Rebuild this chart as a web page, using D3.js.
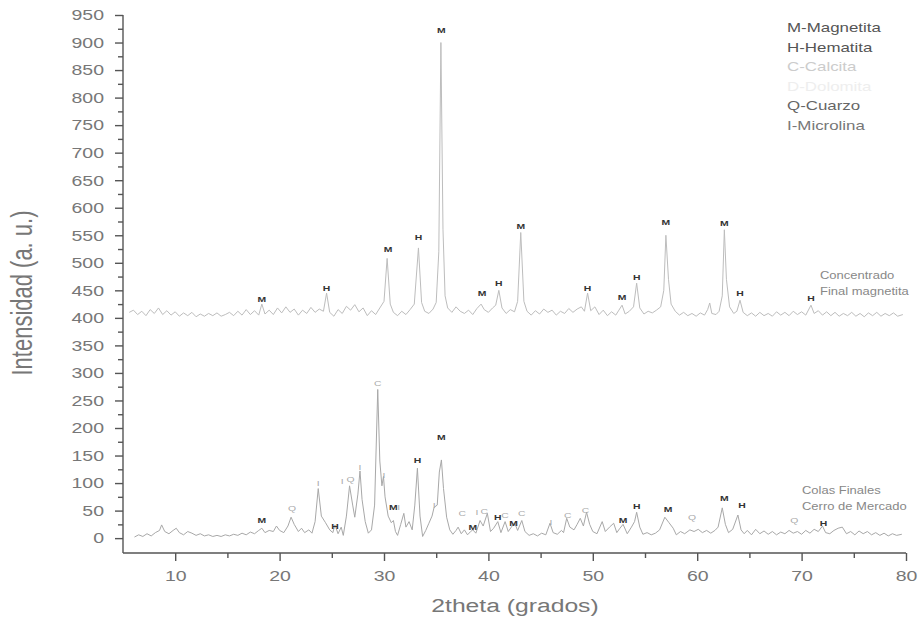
<!DOCTYPE html>
<html>
<head>
<meta charset="utf-8">
<script src="https://cdn.jsdelivr.net/npm/d3@7"></script>
<style>
  body { margin: 0; background: #fff; }
  text { font-family: "Liberation Sans", Arial, sans-serif; }
</style>
</head>
<body>
<script>
// Concentrado Final magnetita (upper pattern)
const topTheta = [5.6, 6.0, 6.4, 6.8, 7.2, 7.6, 8.0, 8.4, 8.8, 9.2, 9.6, 10.0, 10.4, 10.8, 11.2, 11.6, 12.0, 12.4, 12.8, 13.2,
  13.6, 14.0, 14.4, 14.8, 15.2, 15.6, 16.0, 16.4, 16.8, 17.2, 17.6, 18.0, 18.3, 18.6, 19.0, 19.4, 19.8, 20.2, 20.6, 21.0,
  21.4, 21.8, 22.2, 22.6, 23.0, 23.4, 23.8, 24.2, 24.5, 24.8, 25.2, 25.6, 26.0, 26.4, 26.8, 27.2, 27.6, 28.0, 28.4, 28.8,
  29.2, 29.6, 30.0, 30.3, 30.6, 30.9, 31.3, 31.7, 32.1, 32.5, 32.9, 33.3, 33.6, 33.9, 34.3, 34.7, 35.0, 35.25, 35.45, 35.65,
  35.85, 36.1, 36.5, 36.9, 37.3, 37.7, 38.1, 38.5, 38.9, 39.3, 39.6, 40.0, 40.4, 40.7, 41.0, 41.3, 41.7, 42.1, 42.5, 42.8,
  43.1, 43.4, 43.7, 44.1, 44.5, 44.9, 45.3, 45.7, 46.1, 46.5, 46.9, 47.3, 47.7, 48.1, 48.5, 48.9, 49.2, 49.5, 49.8, 50.2,
  50.6, 51.0, 51.4, 51.8, 52.2, 52.5, 52.8, 53.1, 53.5, 53.9, 54.2, 54.5, 54.9, 55.3, 55.7, 56.1, 56.5, 56.8, 57.0, 57.25,
  57.5, 57.9, 58.3, 58.7, 59.1, 59.5, 59.9, 60.3, 60.7, 61.0, 61.2, 61.4, 61.8, 62.1, 62.4, 62.6, 62.8, 63.1, 63.5, 63.8,
  64.1, 64.4, 64.8, 65.2, 65.6, 66.0, 66.4, 66.8, 67.2, 67.6, 68.0, 68.4, 68.8, 69.2, 69.6, 70.0, 70.4, 70.9, 71.2, 71.6,
  72.0, 72.4, 72.8, 73.2, 73.6, 74.0, 74.4, 74.8, 75.2, 75.6, 76.0, 76.4, 76.8, 77.2, 77.6, 78.0, 78.4, 78.8, 79.2, 79.7];
const topIntensity = [410, 414, 406, 412, 404, 415, 408, 418, 406, 413, 405, 411, 403, 409, 404, 410, 402, 407, 403, 408,
  404, 409, 403, 406, 410, 404, 412, 405, 415, 406, 413, 405, 425, 407, 414, 406, 418, 409, 420, 410,
  416, 405, 414, 408, 419, 410, 416, 412, 445, 410, 403, 415, 408, 421, 414, 424, 411, 418, 404, 413,
  406, 418, 430, 508, 425, 410, 404, 412, 406, 415, 425, 527, 428, 412, 408, 416, 428, 520, 900, 560,
  440, 418, 410, 420, 412, 408, 414, 406, 417, 425, 415, 410, 418, 423, 450, 418, 408, 415, 411, 430,
  555, 430, 412, 405, 413, 407, 416, 410, 414, 405, 412, 408, 417, 410, 416, 420, 412, 445, 413, 420,
  406, 414, 404, 411, 405, 414, 423, 407, 412, 420, 463, 418, 407, 412, 409, 414, 420, 450, 550, 470,
  425, 412, 405, 410, 404, 408, 403, 409, 405, 415, 427, 408, 406, 412, 440, 560, 470, 420, 408, 412,
  432, 410, 404, 409, 403, 410, 404, 408, 403, 411, 405, 410, 404, 412, 406, 411, 405, 423, 408, 413,
  405, 411, 404, 410, 403, 408, 404, 410, 403, 408, 402, 409, 404, 410, 403, 408, 404, 409, 403, 406];

// Colas Finales Cerro de Mercado (lower pattern)
const bottomTheta = [6.1, 6.5, 6.9, 7.3, 7.7, 8.1, 8.5, 8.7, 9.0, 9.4, 9.8, 10.1, 10.4, 10.8, 11.2, 11.6, 12.0, 12.4, 12.8, 13.2,
  13.6, 14.0, 14.4, 14.8, 15.2, 15.6, 16.0, 16.4, 16.8, 17.2, 17.6, 18.0, 18.3, 18.6, 19.0, 19.4, 19.7, 20.0, 20.4, 20.8,
  21.1, 21.4, 21.8, 22.1, 22.4, 22.8, 23.1, 23.4, 23.7, 24.0, 24.4, 24.8, 25.1, 25.3, 25.6, 25.9, 26.1, 26.4, 26.7, 27.0,
  27.2, 27.5, 27.7, 27.9, 28.2, 28.5, 28.8, 29.1, 29.4, 29.6, 29.8, 29.95, 30.1, 30.4, 30.7, 30.9, 31.1, 31.3, 31.6, 31.9,
  32.1, 32.4, 32.7, 32.95, 33.2, 33.45, 33.7, 34.0, 34.3, 34.6, 34.8, 35.1, 35.3, 35.5, 35.7, 36.0, 36.3, 36.6, 36.9, 37.1,
  37.4, 37.7, 38.0, 38.3, 38.5, 38.8, 39.2, 39.5, 39.9, 40.2, 40.5, 40.9, 41.2, 41.6, 41.9, 42.2, 42.5, 42.8, 43.2, 43.5,
  43.9, 44.3, 44.7, 45.1, 45.5, 45.9, 46.2, 46.6, 47.0, 47.2, 47.5, 47.8, 48.2, 48.5, 48.8, 49.1, 49.4, 49.7, 50.0, 50.4,
  50.9, 51.2, 51.6, 52.0, 52.3, 52.6, 52.9, 53.3, 53.7, 54.0, 54.2, 54.5, 54.8, 55.2, 55.6, 56.0, 56.4, 56.9, 57.3, 57.7,
  58.0, 58.4, 58.8, 59.3, 59.7, 60.1, 60.5, 60.9, 61.3, 61.7, 62.0, 62.4, 62.7, 63.0, 63.4, 63.9, 64.2, 64.5, 64.8, 65.2,
  65.6, 66.0, 66.4, 66.8, 67.2, 67.6, 68.0, 68.4, 68.8, 69.2, 69.6, 70.0, 70.4, 70.8, 71.2, 71.6, 72.0, 72.3, 72.7, 73.1,
  73.5, 73.9, 74.3, 74.7, 75.1, 75.5, 75.9, 76.3, 76.7, 77.1, 77.5, 77.9, 78.3, 78.7, 79.1, 79.6];
const bottomIntensity = [2, 6, 3, 8, 4, 10, 14, 24, 12, 8, 14, 18, 10, 6, 12, 9, 5, 8, 4, 6,
  3, 5, 3, 6, 4, 7, 5, 9, 6, 11, 8, 14, 18, 10, 14, 12, 22, 14, 10, 22,
  38, 25, 12, 18, 10, 15, 9, 30, 90, 40, 28, 15, 10, 24, 8, 20, 5, 40, 95, 60,
  38, 80, 122, 70, 30, 9, 15, 60, 270, 140, 95, 112, 75, 40, 28, 32, 12, 5, 25, 45,
  20, 30, 15, 60, 127, 40, 3, 14, 27, 40, 56, 60, 120, 142, 90, 38, 15, 7, 14, 20,
  8, 15, 6, 12, 15, 9, 32, 22, 45, 12, 18, 30, 10, 30, 12, 20, 28, 14, 32, 12,
  5, 8, 4, 9, 6, 27, 10, 7, 14, 10, 36, 20, 15, 25, 36, 22, 47, 25, 12, 8,
  30, 12, 20, 27, 10, 18, 25, 8, 20, 30, 47, 20, 7, 10, 6, 9, 15, 38, 28, 18,
  6, 12, 8, 15, 12, 16, 10, 14, 9, 14, 20, 55, 25, 10, 16, 42, 15, 8, 14, 6,
  16, 8, 13, 7, 12, 6, 11, 8, 14, 9, 12, 7, 14, 9, 16, 12, 22, 10, 8, 14,
  18, 20, 8, 12, 6, 13, 8, 12, 6, 10, 5, 9, 4, 8, 5, 7];

// Phase labels over the peaks
const topLabelTheta = [18.3, 24.5, 30.4, 33.3, 35.5, 39.4, 41.0, 43.1, 49.5, 52.8, 54.2, 57.0, 62.6, 64.1, 70.9];
const topLabelText = ["M", "H", "M", "H", "M", "M", "H", "M", "H", "M", "H", "M", "M", "H", "H"];
const topLabelValue = [434, 454, 525, 547, 923, 445, 463, 567, 454, 438, 474, 574, 572, 445, 436];

const bottomLabelTheta = [18.3, 21.2, 23.7, 25.3, 26.0, 26.8, 27.7, 29.4, 30.0, 30.9, 31.4, 33.2, 34.8, 35.5,
  37.5, 38.5, 38.9, 39.6, 40.9, 41.6, 42.4, 43.2, 46.0, 47.6, 49.3, 52.9, 54.2, 57.2, 59.5, 62.6, 64.3, 69.3, 72.1];
const bottomLabelText = ["M", "Q", "I", "H", "I", "Q", "I", "C", "I", "M", "I", "H", "I", "M",
  "C", "M", "I", "C", "H", "C", "M", "C", "I", "C", "C", "M", "H", "M", "Q", "M", "H", "Q", "H"];
const bottomLabelValue = [33, 54, 100, 22, 103, 107, 130, 282, 114, 56, 56, 142, 60, 184,
  45, 20, 47, 50, 38, 42, 27, 45, 30, 42, 51, 33, 58, 53, 38, 73, 60, 33, 27];

const legendItems = ["M-Magnetita", "H-Hematita", "C-Calcita", "D-Dolomita", "Q-Cuarzo", "I-Microlina"];
const legendColors = ["#555", "#555", "#ccc", "#eee", "#666", "#777"];

const yTicks = d3.range(0, 951, 50);
const xTicks = [10, 20, 30, 40, 50, 60, 70, 80];

const width = 921, height = 631;
const SX = 1.3; // glyphs in the picture are drawn horizontally stretched

const svg = d3.select("body").append("svg")
  .attr("width", width)
  .attr("height", height);

const x = d3.scaleLinear().domain([5, 80]).range([123, 906]);
const y = d3.scaleLinear().domain([-27, 950]).range([553, 15]);

function stretchText(sel) {
  sel.each(function() {
    const t = d3.select(this);
    const tx = +(t.attr("x") || 0);
    const ty = +(t.attr("y") || 0);
    t.attr("x", 0).attr("y", 0)
      .attr("transform", `translate(${tx},${ty}) scale(${SX},1)`);
  });
}

// spectra
const line = d3.line().x(d => x(d[0])).y(d => y(d[1]));
svg.append("path")
  .datum(d3.zip(topTheta, topIntensity))
  .attr("d", line)
  .attr("fill", "none")
  .attr("stroke", "#bdbdbd")
  .attr("stroke-width", 1);
svg.append("path")
  .datum(d3.zip(bottomTheta, bottomIntensity))
  .attr("d", line)
  .attr("fill", "none")
  .attr("stroke", "#a8a8a8")
  .attr("stroke-width", 1);

// axes
const gx = svg.append("g").attr("transform", `translate(0,${y(-27)})`);
gx.call(d3.axisBottom(x).tickValues(xTicks).tickSize(8).tickPadding(9).tickFormat(d3.format("d")));
const gxm = svg.append("g").attr("transform", `translate(0,${y(-27)})`);
gxm.call(d3.axisBottom(x).tickValues(d3.range(5, 80, 10).filter(v => v > 5)).tickSize(5).tickFormat(""));
gxm.select(".domain").remove();

const gy = svg.append("g").attr("transform", `translate(${x(5)},0)`);
gy.call(d3.axisLeft(y).tickValues(yTicks).tickSize(8).tickPadding(11).tickFormat(d3.format("d")));
const gym = svg.append("g").attr("transform", `translate(${x(5)},0)`);
gym.call(d3.axisLeft(y).tickValues(d3.range(25, 950, 50)).tickSize(5).tickFormat(""));
gym.select(".domain").remove();

[gx, gy, gxm, gym].forEach(g => {
  g.selectAll("path, line").attr("stroke", "#555").attr("stroke-width", 1.4);
  g.select(".domain").attr("d", function() {
    return g === gx ? `M${x(5)},0H${x(80)}` : `M0,${y(-27)}V${y(950)}`;
  });
});
[gx, gy].forEach(g => {
  g.selectAll(".tick text")
    .attr("fill", "#777")
    .style("font-size", "15px")
    .style("font-family", "'Liberation Sans', Arial, sans-serif");
});
gy.selectAll(".tick text").each(function() {
  const t = d3.select(this);
  const tx = +t.attr("x");
  t.attr("x", 0).attr("transform", `translate(${tx},0) scale(${SX},1)`);
});
gx.selectAll(".tick text").each(function() {
  const t = d3.select(this);
  const ty = +t.attr("y");
  t.attr("y", 0).attr("transform", `translate(0,${ty}) scale(${SX},1)`);
});

// axis titles
svg.append("text")
  .attr("x", 515).attr("y", 612)
  .attr("text-anchor", "middle")
  .attr("fill", "#777")
  .style("font-size", "19px")
  .text("2theta (grados)")
  .call(stretchText);

svg.append("text")
  .attr("text-anchor", "middle")
  .attr("fill", "#777")
  .style("font-size", "22px")
  .attr("transform", `translate(32,293) rotate(-90) scale(1,${SX})`)
  .text("Intensidad (a. u.)");

// peak labels
function labelColor(t) {
  return t === "M" || t === "H" ? "#333" : "#aaa";
}
svg.append("g").selectAll("text")
  .data(d3.zip(topLabelTheta, topLabelText, topLabelValue))
  .join("text")
  .attr("x", d => x(d[0]))
  .attr("y", d => y(d[2]) + 3)
  .attr("text-anchor", "middle")
  .attr("fill", d => labelColor(d[1]))
  .style("font-size", "8px")
  .style("font-weight", "bold")
  .text(d => d[1])
  .call(stretchText);

svg.append("g").selectAll("text")
  .data(d3.zip(bottomLabelTheta, bottomLabelText, bottomLabelValue))
  .join("text")
  .attr("x", d => x(d[0]))
  .attr("y", d => y(d[2]) + 3)
  .attr("text-anchor", "middle")
  .attr("fill", d => labelColor(d[1]))
  .style("font-size", "8px")
  .style("font-weight", d => d[1] === "M" || d[1] === "H" ? "bold" : "normal")
  .text(d => d[1])
  .call(stretchText);

// sample names
const sampleNotes = [
  { lines: ["Concentrado", "Final magnetita"], x: 820, y: 279 },
  { lines: ["Colas Finales", "Cerro de Mercado"], x: 802, y: 494 }
];
sampleNotes.forEach(n => {
  n.lines.forEach((s, i) => {
    svg.append("text")
      .attr("x", n.x).attr("y", n.y + i * 16)
      .attr("fill", "#888")
      .style("font-size", "10px")
      .text(s)
      .call(stretchText);
  });
});

// legend
svg.append("g").selectAll("text")
  .data(legendItems)
  .join("text")
  .attr("x", 787)
  .attr("y", (d, i) => 32 + i * 19.5)
  .attr("fill", (d, i) => legendColors[i])
  .style("font-size", "13px")
  .text(d => d)
  .call(stretchText);
</script>
</body>
</html>
